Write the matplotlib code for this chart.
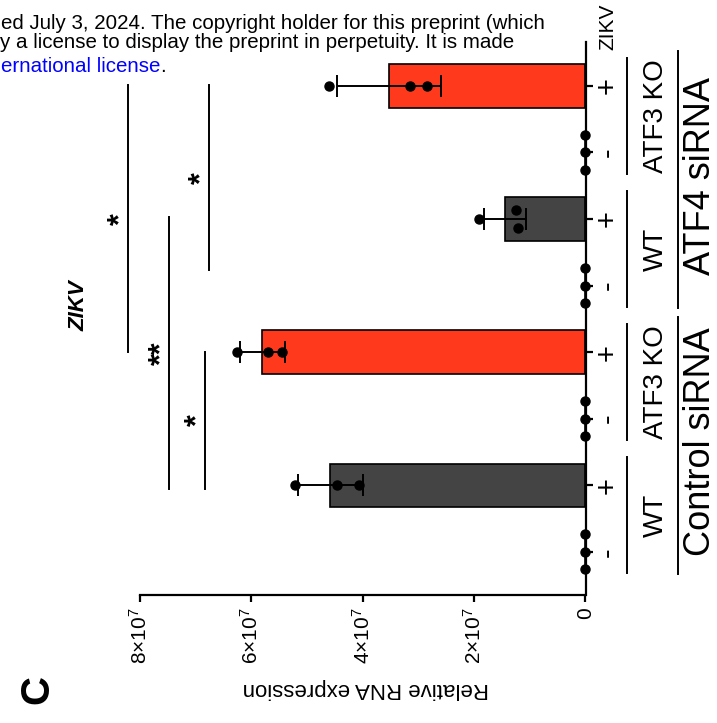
import numpy as np
import matplotlib.pyplot as plt
import matplotlib.transforms as mtransforms
from matplotlib.lines import Line2D

plt.rcParams['font.family'] = ['Liberation Sans', 'DejaVu Sans']
plt.rcParams['mathtext.fontset'] = 'custom'
plt.rcParams['mathtext.rm'] = 'Liberation Sans'
plt.rcParams['mathtext.it'] = 'Liberation Sans:italic'
plt.rcParams['mathtext.bf'] = 'Liberation Sans:bold'

# data, values in units of 1e7, groups listed bottom to top
zikv = ['-', '+', '-', '+', '-', '+', '-', '+']
cell_lines = ['WT', 'ATF3 KO', 'WT', 'ATF3 KO']
sirna = ['Control siRNA', 'ATF4 siRNA']
means = [0, 4.58, 0, 5.80, 0, 1.45, 0, 3.53]
sds = [0, 0.59, 0, 0.41, 0, 0.38, 0, 0.93]
reps = [[0, 0, 0], [5.21, 4.46, 4.07], [0, 0, 0], [6.26, 5.70, 5.45],
        [0, 0, 0], [1.91, 1.25, 1.21], [0, 0, 0], [4.60, 3.15, 2.85]]
rep_jitter = [[0.26, 0, -0.26], [0, 0, 0], [0.26, 0, -0.26], [0, 0, 0],
              [0.26, 0, -0.26], [0, 0.135, -0.135], [0.26, 0, -0.26], [0, 0, 0]]
bar_colors = ['#444444', '#444444', '#FF3A1C', '#FF3A1C',
              '#444444', '#444444', '#FF3A1C', '#FF3A1C']
xticks = [0, 2, 4, 6, 8]
xticklabels = ['0', r'$2{\times}10^{7}$', r'$4{\times}10^{7}$',
               r'$6{\times}10^{7}$', r'$8{\times}10^{7}$']
# significance lines: (from group, to group, level, label)
sig = [(3, 7.01, 8.22, '*'), (4.23, 7.01, 6.76, '*'),
       (0.95, 5.03, 7.48, '**'), (0.95, 3, 6.83, '*')]

W, H = 717, 723
fig = plt.figure(figsize=(W / 100, H / 100), dpi=100)
ax_r, ax_t, ax_b = 585.5, 42, 595
ax = fig.add_axes([0, 1 - ax_b / H, ax_r / W, (ax_b - ax_t) / H])
pix = mtransforms.Affine2D().scale(1 / W, -1 / H).translate(0, 1) + fig.transFigure
bl = mtransforms.blended_transform_factory(ax.transAxes, ax.transData)

def axx(px):
    return px / ax_r

y = np.arange(len(means))
means = np.array(means)
sds = np.array(sds)

ax.barh(y, means, height=0.65, color=bar_colors, edgecolor='black',
        linewidth=1.2, zorder=2)
m = means > 0
ax.errorbar(means[m], y[m], xerr=sds[m], fmt='none', ecolor='black',
            elinewidth=1.4, capsize=8, capthick=1.4, zorder=3)
for i in range(len(reps)):
    ax.plot(reps[i], y[i] + np.array(rep_jitter[i]), 'o', color='black',
            ms=6.5, zorder=5, clip_on=False)

ax.set_xlim(ax_r / 55.7, 0)
ax.set_ylim(-0.65, 7.66)
for s in ['left', 'top']:
    ax.spines[s].set_visible(False)
ax.spines['right'].set_linewidth(1.6)
ax.spines['bottom'].set_linewidth(1.6)
ax.spines['bottom'].set_bounds(0, 8)
ax.spines['right'].set_zorder(4)

ax.set_xticks(xticks)
ax.set_xticklabels(xticklabels, rotation=90, fontsize=15)
ax.tick_params(axis='x', direction='out', length=5, width=1.6, pad=4)
ax.yaxis.tick_right()
ax.set_yticks(y)
ax.set_yticklabels([])
ax.tick_params(axis='y', direction='out', length=5, width=1.6)

for i, s in enumerate(zikv):
    ax.text(axx(616), y[i], s, transform=bl, rotation=90, rotation_mode='anchor',
            ha='center', va='baseline', fontsize=21)

for k, name in enumerate(cell_lines):
    c = 2 * k + 0.5 + 0.05
    ax.add_line(Line2D([axx(627), axx(627)], [c - 0.87, c + 0.87], transform=bl,
                       color='black', lw=1.4, clip_on=False))
    ax.text(axx(663), c, name, transform=bl, rotation=90, rotation_mode='anchor',
            ha='center', va='baseline', fontsize=20)

for k, name in enumerate(sirna):
    c = 4 * k + 1.5
    ax.add_line(Line2D([axx(678), axx(678)], [c + 0.1 - 1.93, c + 0.1 + 1.93],
                       transform=bl, color='black', lw=1.4, clip_on=False))
    ax.text(axx(710), c + 0.15, name, transform=bl, rotation=90,
            rotation_mode='anchor', ha='center', va='baseline', fontsize=26)

for a, b, lev, lab in sig:
    ax.plot([lev, lev], [a, b], color='black', lw=1.4, clip_on=False)
    ax.text(lev - 0.02, (a + b) / 2, lab, rotation=90, rotation_mode='anchor',
            ha='center', va='baseline', fontsize=22, fontweight='bold',
            linespacing=0.8)

fig.text(613, 27, 'ZIKV', transform=pix, rotation=90, rotation_mode='anchor',
         ha='center', va='baseline', fontsize=15)
fig.text(85, 306, 'ZIKV', transform=pix, rotation=90, rotation_mode='anchor',
         ha='center', va='baseline', fontsize=16, fontweight='bold',
         fontstyle='italic')
fig.text(366, 688, 'Relative RNA expression', transform=pix, rotation=180,
         ha='center', va='center', fontsize=16)
fig.text(48, 690, 'C', transform=pix, rotation=90, rotation_mode='anchor',
         ha='center', va='baseline', fontsize=29, fontweight='bold')

fig.text(1, 29, 'ed July 3, 2024. The copyright holder for this preprint (which',
         transform=pix, ha='left', va='baseline', fontsize=14.8)
fig.text(0, 48, 'y a license to display the preprint in perpetuity. It is made',
         transform=pix, ha='left', va='baseline', fontsize=14.8)
t3 = fig.text(1, 72, 'ernational license', transform=pix, ha='left',
              va='baseline', fontsize=14.8, color='#0000FF')
fig.add_artist(plt.Annotation('.', xy=(1, 0), xycoords=t3, va='bottom',
                              ha='left', fontsize=14.8))

fig.savefig('out.png', dpi=100)
